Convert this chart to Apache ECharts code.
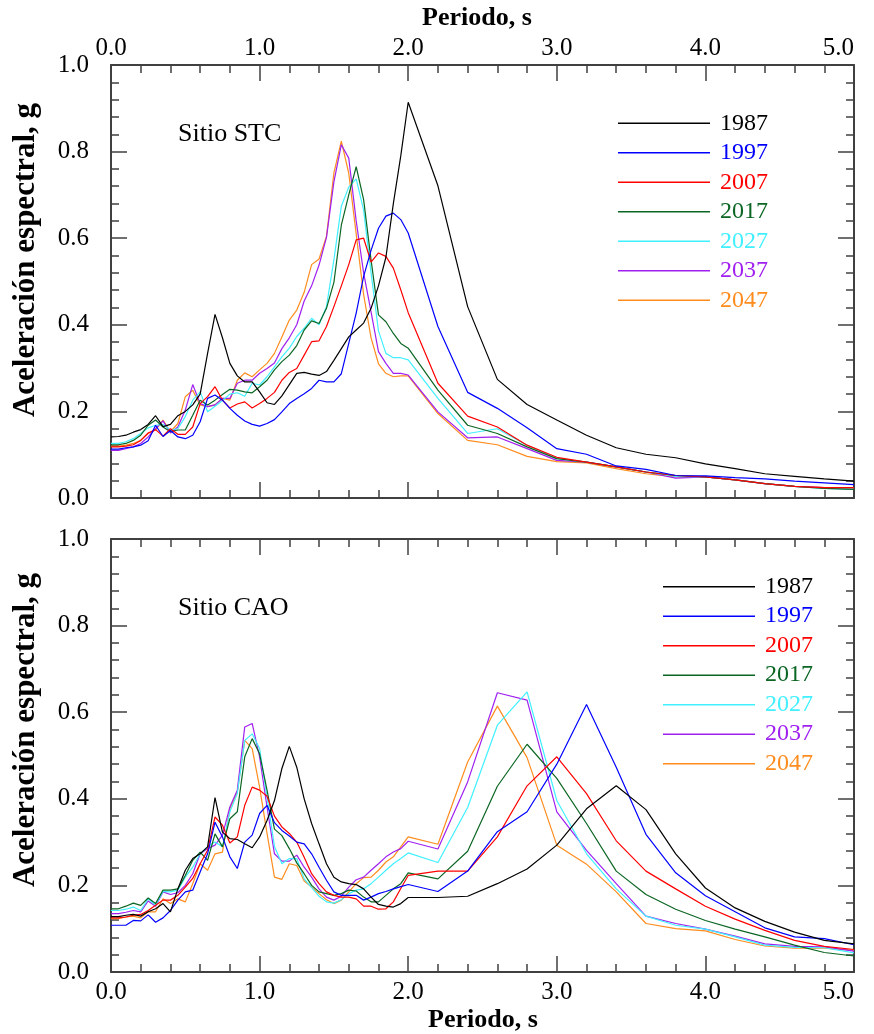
<!DOCTYPE html>
<html><head><meta charset="utf-8">
<script src="https://cdn.jsdelivr.net/npm/echarts@6/dist/echarts.min.js"></script>
<style>html,body{margin:0;padding:0;background:#fff}#c{width:874px;height:1034px}</style>
</head><body><div id="c"></div>
<script>
const periods = [0.00,0.05,0.10,0.15,0.20,0.25,0.30,0.35,0.40,0.45,0.50,0.55,0.60,0.65,0.70,0.75,0.80,0.85,0.90,0.95,1.00,1.05,1.10,1.15,1.20,1.25,1.30,1.35,1.40,1.45,1.50,1.55,1.60,1.65,1.70,1.75,1.80,1.85,1.90,1.95,2.00,2.2,2.4,2.6,2.8,3.0,3.2,3.4,3.6,3.8,4.0,4.2,4.4,4.6,4.8,5.0];
const years = ['1987','1997','2007','2017','2027','2037','2047'];
const colors = ['#000000','#0000ff','#ff0000','#0b6623','#40f0ff','#a020f0','#ff8c1e'];
const xTicks = [0,1,2,3,4,5];
const yTicks = [0,0.2,0.4,0.6,0.8,1.0];

// Sitio STC
const stc1987 = [0.141,0.142,0.145,0.152,0.158,0.170,0.190,0.165,0.170,0.190,0.200,0.215,0.240,0.334,0.424,0.370,0.311,0.282,0.268,0.268,0.245,0.220,0.216,0.236,0.262,0.288,0.290,0.286,0.283,0.292,0.318,0.345,0.372,0.388,0.404,0.438,0.490,0.556,0.680,0.790,0.914,0.721,0.442,0.274,0.216,0.180,0.145,0.116,0.101,0.093,0.079,0.068,0.056,0.050,0.044,0.039];
const stc1997 = [0.113,0.113,0.116,0.118,0.122,0.132,0.168,0.142,0.156,0.141,0.137,0.145,0.176,0.230,0.238,0.226,0.207,0.191,0.178,0.170,0.166,0.172,0.181,0.199,0.218,0.230,0.241,0.253,0.272,0.268,0.268,0.287,0.357,0.427,0.512,0.572,0.623,0.651,0.658,0.643,0.612,0.396,0.244,0.207,0.162,0.114,0.101,0.074,0.066,0.052,0.051,0.047,0.044,0.039,0.035,0.031];
const stc2007 = [0.118,0.118,0.120,0.123,0.133,0.150,0.158,0.143,0.160,0.147,0.147,0.164,0.218,0.234,0.257,0.226,0.208,0.217,0.222,0.208,0.218,0.230,0.244,0.272,0.290,0.299,0.330,0.361,0.363,0.396,0.442,0.490,0.539,0.596,0.600,0.545,0.566,0.558,0.531,0.481,0.428,0.265,0.189,0.164,0.122,0.094,0.083,0.072,0.060,0.052,0.049,0.042,0.033,0.027,0.024,0.024];
const stc2017 = [0.123,0.123,0.126,0.133,0.145,0.168,0.180,0.164,0.153,0.157,0.157,0.191,0.226,0.215,0.226,0.239,0.251,0.249,0.245,0.243,0.257,0.272,0.296,0.315,0.330,0.352,0.388,0.409,0.403,0.438,0.498,0.630,0.700,0.765,0.689,0.550,0.423,0.407,0.380,0.357,0.346,0.249,0.168,0.149,0.118,0.091,0.083,0.072,0.060,0.052,0.049,0.042,0.033,0.027,0.022,0.020];
const stc2027 = [0.126,0.126,0.130,0.137,0.149,0.162,0.168,0.170,0.157,0.160,0.188,0.226,0.245,0.199,0.212,0.225,0.240,0.243,0.235,0.265,0.261,0.280,0.303,0.326,0.346,0.373,0.392,0.415,0.400,0.442,0.550,0.674,0.718,0.737,0.665,0.520,0.386,0.334,0.324,0.324,0.319,0.230,0.149,0.160,0.122,0.091,0.083,0.072,0.060,0.050,0.049,0.042,0.033,0.027,0.022,0.020];
const stc2037 = [0.110,0.110,0.114,0.118,0.126,0.141,0.160,0.178,0.150,0.164,0.203,0.262,0.218,0.211,0.215,0.230,0.230,0.265,0.272,0.272,0.288,0.299,0.312,0.345,0.370,0.400,0.455,0.490,0.538,0.602,0.730,0.816,0.785,0.640,0.520,0.430,0.338,0.311,0.288,0.288,0.284,0.199,0.139,0.141,0.114,0.087,0.083,0.072,0.060,0.046,0.049,0.042,0.033,0.027,0.024,0.024];
const stc2047 = [0.120,0.120,0.122,0.126,0.133,0.149,0.157,0.180,0.153,0.172,0.234,0.249,0.215,0.211,0.215,0.230,0.226,0.272,0.289,0.280,0.296,0.311,0.334,0.372,0.411,0.434,0.475,0.539,0.552,0.604,0.751,0.824,0.750,0.610,0.470,0.370,0.310,0.288,0.280,0.282,0.282,0.195,0.133,0.123,0.096,0.084,0.081,0.068,0.056,0.049,0.049,0.042,0.033,0.027,0.024,0.024];

// Sitio CAO
const cao1987 = [0.128,0.128,0.131,0.133,0.129,0.139,0.146,0.158,0.139,0.192,0.235,0.262,0.273,0.289,0.403,0.323,0.308,0.306,0.296,0.287,0.312,0.350,0.396,0.470,0.521,0.473,0.400,0.343,0.296,0.250,0.219,0.208,0.204,0.202,0.192,0.173,0.156,0.152,0.150,0.158,0.172,0.172,0.175,0.204,0.238,0.293,0.377,0.430,0.375,0.273,0.194,0.148,0.117,0.092,0.073,0.065];
const cao1997 = [0.108,0.108,0.108,0.119,0.118,0.132,0.115,0.125,0.142,0.166,0.185,0.189,0.231,0.273,0.346,0.312,0.266,0.239,0.300,0.316,0.366,0.385,0.345,0.327,0.314,0.300,0.296,0.273,0.242,0.212,0.185,0.177,0.177,0.177,0.166,0.173,0.181,0.186,0.192,0.197,0.202,0.186,0.233,0.324,0.370,0.480,0.618,0.473,0.318,0.229,0.176,0.139,0.102,0.081,0.077,0.063];
const cao2007 = [0.125,0.125,0.127,0.131,0.133,0.142,0.154,0.166,0.166,0.177,0.196,0.216,0.250,0.281,0.358,0.339,0.298,0.312,0.385,0.427,0.420,0.406,0.360,0.335,0.320,0.300,0.265,0.227,0.204,0.185,0.177,0.173,0.173,0.169,0.152,0.152,0.145,0.146,0.162,0.193,0.223,0.233,0.233,0.312,0.430,0.497,0.412,0.303,0.233,0.192,0.152,0.122,0.096,0.073,0.059,0.052];
const cao2017 = [0.146,0.146,0.152,0.159,0.154,0.171,0.158,0.189,0.189,0.192,0.223,0.258,0.277,0.258,0.319,0.289,0.354,0.370,0.497,0.539,0.504,0.420,0.330,0.315,0.285,0.252,0.227,0.200,0.185,0.181,0.177,0.181,0.189,0.187,0.173,0.162,0.162,0.177,0.192,0.204,0.229,0.215,0.279,0.429,0.526,0.447,0.343,0.233,0.179,0.145,0.119,0.099,0.081,0.062,0.045,0.037];
const cao2027 = [0.142,0.142,0.145,0.150,0.142,0.169,0.154,0.186,0.185,0.189,0.219,0.242,0.273,0.289,0.300,0.289,0.370,0.412,0.535,0.550,0.516,0.404,0.290,0.250,0.262,0.262,0.215,0.195,0.175,0.162,0.159,0.167,0.181,0.189,0.192,0.204,0.219,0.235,0.250,0.262,0.275,0.253,0.380,0.570,0.647,0.396,0.273,0.192,0.129,0.108,0.099,0.081,0.062,0.057,0.056,0.044];
const cao2037 = [0.135,0.135,0.138,0.142,0.139,0.164,0.152,0.185,0.179,0.183,0.200,0.227,0.273,0.285,0.293,0.316,0.381,0.420,0.566,0.574,0.497,0.381,0.273,0.256,0.256,0.270,0.242,0.219,0.192,0.173,0.166,0.175,0.196,0.213,0.219,0.235,0.250,0.266,0.277,0.285,0.302,0.284,0.439,0.645,0.628,0.370,0.281,0.204,0.129,0.112,0.099,0.083,0.065,0.059,0.058,0.048];
const cao2047 = [0.123,0.123,0.127,0.129,0.125,0.139,0.139,0.169,0.158,0.169,0.162,0.204,0.250,0.235,0.273,0.277,0.377,0.416,0.535,0.516,0.427,0.320,0.219,0.214,0.250,0.246,0.210,0.196,0.181,0.167,0.158,0.166,0.185,0.204,0.218,0.219,0.235,0.254,0.266,0.289,0.312,0.295,0.485,0.614,0.495,0.293,0.249,0.185,0.112,0.100,0.095,0.075,0.060,0.055,0.055,0.050];

const stcSeries = [stc1987,stc1997,stc2007,stc2017,stc2027,stc2037,stc2047];
const caoSeries = [cao1987,cao1997,cao2007,cao2017,cao2027,cao2037,cao2047];

const FAM = 'Liberation Serif';
const FONT = '"Liberation Serif", serif';
const AX = '#404040';
const fmt = v => v.toFixed(1);

function xAxis(grid, pos, labels) {
  return {
    gridIndex: grid, type: 'value', position: pos, min: xTicks[0], max: xTicks[xTicks.length-1], interval: 1,
    axisLine: {show: true, onZero: false, lineStyle: {color: AX, width: 2}},
    axisTick: {show: true, inside: true, length: 16, lineStyle: {color: AX, width: 1.5}},
    minorTick: {show: true, splitNumber: 5, length: 8, lineStyle: {color: AX, width: 1.5}},
    splitLine: {show: false}, minorSplitLine: {show: false},
    axisLabel: {show: labels, formatter: fmt, fontFamily: FAM, fontSize: 25, color: '#000',
      margin: pos === 'top' ? 4 : 8, alignMaxLabel: 'right', showMinLabel: true, showMaxLabel: true}
  };
}
function yAxis(grid, pos, labels) {
  return {
    gridIndex: grid, type: 'value', position: pos, min: yTicks[0], max: yTicks[yTicks.length-1], interval: 0.2,
    axisLine: {show: true, onZero: false, lineStyle: {color: AX, width: 2}},
    axisTick: {show: true, inside: true, length: 16, lineStyle: {color: AX, width: 1.5}},
    minorTick: {show: true, splitNumber: 5, length: 8, lineStyle: {color: AX, width: 1.5}},
    splitLine: {show: false}, minorSplitLine: {show: false},
    axisLabel: {show: labels, formatter: fmt, fontFamily: FAM, fontSize: 25, color: '#000', margin: 22,
      showMinLabel: true, showMaxLabel: true}
  };
}

function mkSeries(arrs, xi, yi) {
  return arrs.map((arr, i) => ({
    name: years[i], type: 'line', xAxisIndex: xi, yAxisIndex: yi,
    data: periods.map((p, k) => [p, arr[k]]),
    showSymbol: false, symbol: 'none', smooth: false,
    lineStyle: {color: colors[i], width: 1.2}, itemStyle: {color: colors[i]},
    emphasis: {disabled: true}, z: 10 - i
  }));
}

function mkLegend(left, top) {
  return {
    orient: 'vertical', left: left, top: top, selectedMode: false,
    icon: 'rect', itemWidth: 92, itemHeight: 1.5, itemGap: 5.5, padding: 0,
    textStyle: {fontFamily: FAM, fontSize: 24, lineHeight: 24, padding: [0, 0, 0, 5]},
    data: years.map((y, i) => ({name: y, textStyle: {color: colors[i]}}))
  };
}

const chart = echarts.init(document.getElementById('c'), null, {renderer: 'canvas'});
chart.setOption({
  animation: false,
  backgroundColor: '#fff',
  textStyle: {fontFamily: FAM},
  grid: [
    {left: 111, top: 65, width: 743, height: 433, outerBoundsMode: 'none', containLabel: false},
    {left: 111, top: 539, width: 743, height: 433, outerBoundsMode: 'none', containLabel: false}
  ],
  xAxis: [xAxis(0, 'top', true), xAxis(0, 'bottom', false), xAxis(1, 'bottom', true), xAxis(1, 'top', false)],
  yAxis: [yAxis(0, 'left', true), yAxis(0, 'right', false), yAxis(1, 'left', true), yAxis(1, 'right', false)],
  legend: [mkLegend(618, 111.3), mkLegend(663, 574.7)],
  series: [...mkSeries(stcSeries, 0, 0), ...mkSeries(caoSeries, 2, 2)],
  graphic: [
    {type: 'text', left: 178, top: 121, style: {text: 'Sitio STC', font: '26px ' + FONT, fill: '#000'}},
    {type: 'text', left: 178, top: 595, style: {text: 'Sitio CAO', font: '26px ' + FONT, fill: '#000'}},
    {type: 'text', x: 477, y: 18, style: {text: 'Periodo, s', font: 'bold 26px ' + FONT, fill: '#000', textAlign: 'center', textVerticalAlign: 'middle'}},
    {type: 'text', x: 483, y: 1020, style: {text: 'Periodo, s', font: 'bold 26px ' + FONT, fill: '#000', textAlign: 'center', textVerticalAlign: 'middle'}},
    {type: 'text', x: 26, y: 260, rotation: Math.PI / 2, style: {text: 'Aceleración espectral, g', font: 'bold 31px ' + FONT, fill: '#000', textAlign: 'center', textVerticalAlign: 'middle'}},
    {type: 'text', x: 26, y: 730, rotation: Math.PI / 2, style: {text: 'Aceleración espectral, g', font: 'bold 31px ' + FONT, fill: '#000', textAlign: 'center', textVerticalAlign: 'middle'}}
  ]
});
</script></body></html>
